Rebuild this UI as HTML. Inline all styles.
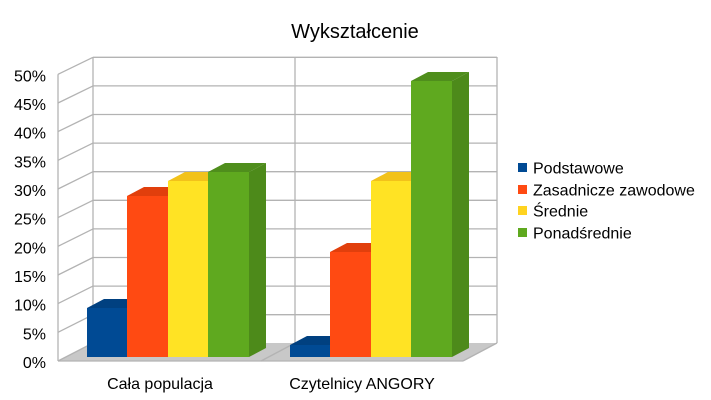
<!DOCTYPE html>
<html><head><meta charset="utf-8"><style>
html,body{margin:0;padding:0;background:#fff;}
svg{display:block;font-family:"Liberation Sans",sans-serif;}
</style></head><body>
<svg width="711" height="400" viewBox="0 0 711 400" xmlns="http://www.w3.org/2000/svg">
<rect width="711" height="400" fill="#fff"/>
<text x="355" y="38" font-size="20" text-anchor="middle" fill="#000">Wykształcenie</text>
<polygon points="58,361 463,361 497,343 93,343" fill="#c8c8c8"/>
<g stroke="#b3b3b3" stroke-width="1.3" fill="none">
<line x1="93" y1="57.3" x2="497" y2="57.3"/>
<line x1="93" y1="85.9" x2="497" y2="85.9"/>
<line x1="93" y1="114.5" x2="497" y2="114.5"/>
<line x1="93" y1="143.1" x2="497" y2="143.1"/>
<line x1="93" y1="171.7" x2="497" y2="171.7"/>
<line x1="93" y1="200.3" x2="497" y2="200.3"/>
<line x1="93" y1="228.9" x2="497" y2="228.9"/>
<line x1="93" y1="257.5" x2="497" y2="257.5"/>
<line x1="93" y1="286.1" x2="497" y2="286.1"/>
<line x1="93" y1="314.7" x2="497" y2="314.7"/>
<line x1="93" y1="57" x2="93" y2="343"/>
<line x1="295" y1="57" x2="295" y2="343"/>
<line x1="497" y1="57" x2="497" y2="343"/>
<line x1="58" y1="74.3" x2="58" y2="361"/>
<line x1="58" y1="74.3" x2="93" y2="57.3"/>
<line x1="58" y1="103" x2="93" y2="85.9"/>
<line x1="58" y1="131.6" x2="93" y2="114.5"/>
<line x1="58" y1="160.3" x2="93" y2="143.1"/>
<line x1="58" y1="189" x2="93" y2="171.7"/>
<line x1="58" y1="217.6" x2="93" y2="200.3"/>
<line x1="58" y1="246.3" x2="93" y2="228.9"/>
<line x1="58" y1="275" x2="93" y2="257.5"/>
<line x1="58" y1="303.6" x2="93" y2="286.1"/>
<line x1="58" y1="332.3" x2="93" y2="314.7"/>
<line x1="58" y1="361" x2="93" y2="343"/>
<line x1="58" y1="361" x2="463" y2="361"/>
<line x1="261" y1="361" x2="295" y2="343"/>
<line x1="463" y1="361" x2="497" y2="343"/>
</g>
<g>
<polygon points="87,308 104,299 144,299 127,308" fill="#004080"/>
<rect x="87" y="308" width="40" height="49" fill="#004a94"/>
<polygon points="127,196 144,187 185,187 168,196" fill="#e13f0c"/>
<rect x="127" y="196" width="41" height="161" fill="#ff4a12"/>
<polygon points="168,181 185,172 225,172 208,181" fill="#f2c21a"/>
<rect x="168" y="181" width="40" height="176" fill="#ffe324"/>
<polygon points="208,172 225,163 266,163 249,172" fill="#4f8e1c"/>
<rect x="208" y="172" width="41" height="185" fill="#5fa91f"/>
<polygon points="249,172 266,163 266,348 249,357" fill="#4d8a1a"/>
</g>
<g>
<polygon points="290,345 307,336 347,336 330,345" fill="#004080"/>
<rect x="290" y="345" width="40" height="12" fill="#004a94"/>
<polygon points="330,252 347,243 388,243 371,252" fill="#e13f0c"/>
<rect x="330" y="252" width="41" height="105" fill="#ff4a12"/>
<polygon points="371,181 388,172 428,172 411,181" fill="#f2c21a"/>
<rect x="371" y="181" width="40" height="176" fill="#ffe324"/>
<polygon points="411,81 428,72 469,72 452,81" fill="#4f8e1c"/>
<rect x="411" y="81" width="41" height="276" fill="#5fa91f"/>
<polygon points="452,81 469,72 469,348 452,357" fill="#4d8a1a"/>
</g>
<g font-size="16" text-anchor="end" fill="#000">
<text x="46" y="81.5">50%</text>
<text x="46" y="110">45%</text>
<text x="46" y="138.5">40%</text>
<text x="46" y="167.5">35%</text>
<text x="46" y="196">30%</text>
<text x="46" y="224.5">25%</text>
<text x="46" y="253.5">20%</text>
<text x="46" y="282">15%</text>
<text x="46" y="310.5">10%</text>
<text x="46" y="339.5">5%</text>
<text x="46" y="368">0%</text>
</g>
<g font-size="16" text-anchor="middle" fill="#000">
<text x="160" y="389">Cała populacja</text>
<text x="362" y="389">Czytelnicy ANGORY</text>
</g>
<rect x="518" y="163" width="9" height="9" fill="#004a94"/>
<rect x="518" y="185" width="9" height="9" fill="#ff4a12"/>
<rect x="518" y="206" width="9" height="9" fill="#ffd320"/>
<rect x="518" y="228" width="9" height="9" fill="#5fa91f"/>
<g font-size="16" fill="#000">
<text x="533" y="173.5">Podstawowe</text>
<text x="533" y="195.5">Zasadnicze zawodowe</text>
<text x="533" y="216.5">Średnie</text>
<text x="533" y="238.5">Ponadśrednie</text>
</g>
</svg>
</body></html>
